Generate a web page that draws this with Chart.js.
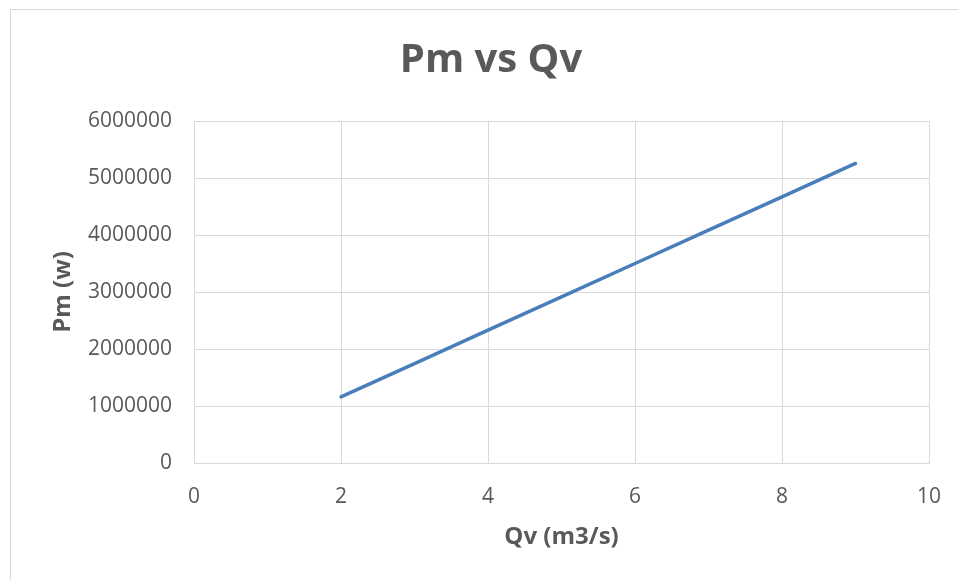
<!DOCTYPE html>
<html>
<head>
<meta charset="utf-8">
<script src="https://cdn.jsdelivr.net/npm/chart.js@4.4.1/dist/chart.umd.min.js"></script>
<style>
    html, body { margin: 0; padding: 0; background: #fff; }
    #wrap { position: relative; width: 958px; height: 580px; overflow: hidden; }
    #frame {
        position: absolute; left: 10px; top: 9px; right: 0; bottom: 0;
        border-left: 1px solid #d9d9d9; border-top: 1px solid #d9d9d9;
        pointer-events: none;
    }
    canvas { position: absolute; left: 0; top: 0; }
</style>
</head>
<body>
<div id="wrap">
    <canvas id="canvas" width="958" height="580"></canvas>
    <div id="frame"></div>
</div>
<script>
// flow rate Qv (m3/s) and power Pm (w)
const flowRates = [2, 3, 4, 5, 6, 7, 8, 9];
const powerValues = [1160000, 1745000, 2330000, 2915000, 3500000, 4085000, 4670000, 5255000];

const chartTitle = 'Pm vs Qv';
const xTitle = 'Qv (m3/s)';
const yTitle = 'Pm (w)';

const textGrey = '#595959';
const gridGrey = '#d9d9d9';

document.addEventListener('DOMContentLoaded', () => {
    const points = flowRates.map((q, i) => ({ x: q, y: powerValues[i] }));

    const ctx = document.getElementById('canvas').getContext('2d');
    new Chart(ctx, {
        type: 'scatter',
        data: {
            datasets: [{
                label: 'Pm',
                data: points,
                showLine: true,
                borderColor: '#4a7ebb',
                backgroundColor: '#4a7ebb',
                borderWidth: 3.5,
                borderCapStyle: 'round',
                pointRadius: 0,
                pointHoverRadius: 0
            }]
        },
        options: {
            responsive: false,
            animation: false,
            layout: { padding: { left: 24, right: 0, top: 0, bottom: 0 } },
            plugins: {
                legend: { display: false },
                tooltip: { enabled: false },
                title: {
                    display: true,
                    text: chartTitle,
                    color: textGrey,
                    font: { family: 'Open Sans', size: 40, weight: 'bold' },
                    padding: { top: 37, bottom: 36 }
                }
            },
            scales: {
                x: {
                    type: 'linear',
                    min: 0,
                    max: 10,
                    ticks: {
                        stepSize: 2,
                        padding: 21,
                        color: textGrey,
                        font: { family: 'Open Sans', size: 21 },
                        callback: (value) => String(value)
                    },
                    grid: { color: gridGrey, lineWidth: 1, drawTicks: false },
                    border: { color: gridGrey },
                    title: {
                        display: true,
                        text: xTitle,
                        color: textGrey,
                        font: { family: 'Open Sans', size: 24, weight: 'bold' },
                        padding: { top: 0, bottom: 28 }
                    },
                    afterFit: (scale) => {
                        scale.height = 117;
                        scale.paddingLeft = 0;
                        scale.paddingRight = 29;
                    }
                },
                y: {
                    type: 'linear',
                    min: 0,
                    max: 6000000,
                    ticks: {
                        stepSize: 1000000,
                        padding: 22,
                        color: textGrey,
                        font: { family: 'Open Sans', size: 21 },
                        callback: (value) => String(value)
                    },
                    grid: { color: gridGrey, lineWidth: 1, drawTicks: false },
                    border: { color: gridGrey },
                    title: {
                        display: true,
                        text: yTitle,
                        color: textGrey,
                        font: { family: 'Open Sans', size: 24, weight: 'bold' },
                        padding: { top: 25, bottom: 0 }
                    },
                    afterFit: (scale) => {
                        scale.width = 170;
                        scale.paddingTop = 0;
                        scale.paddingBottom = 0;
                    }
                }
            }
        }
    });
});
</script>
</body>
</html>
